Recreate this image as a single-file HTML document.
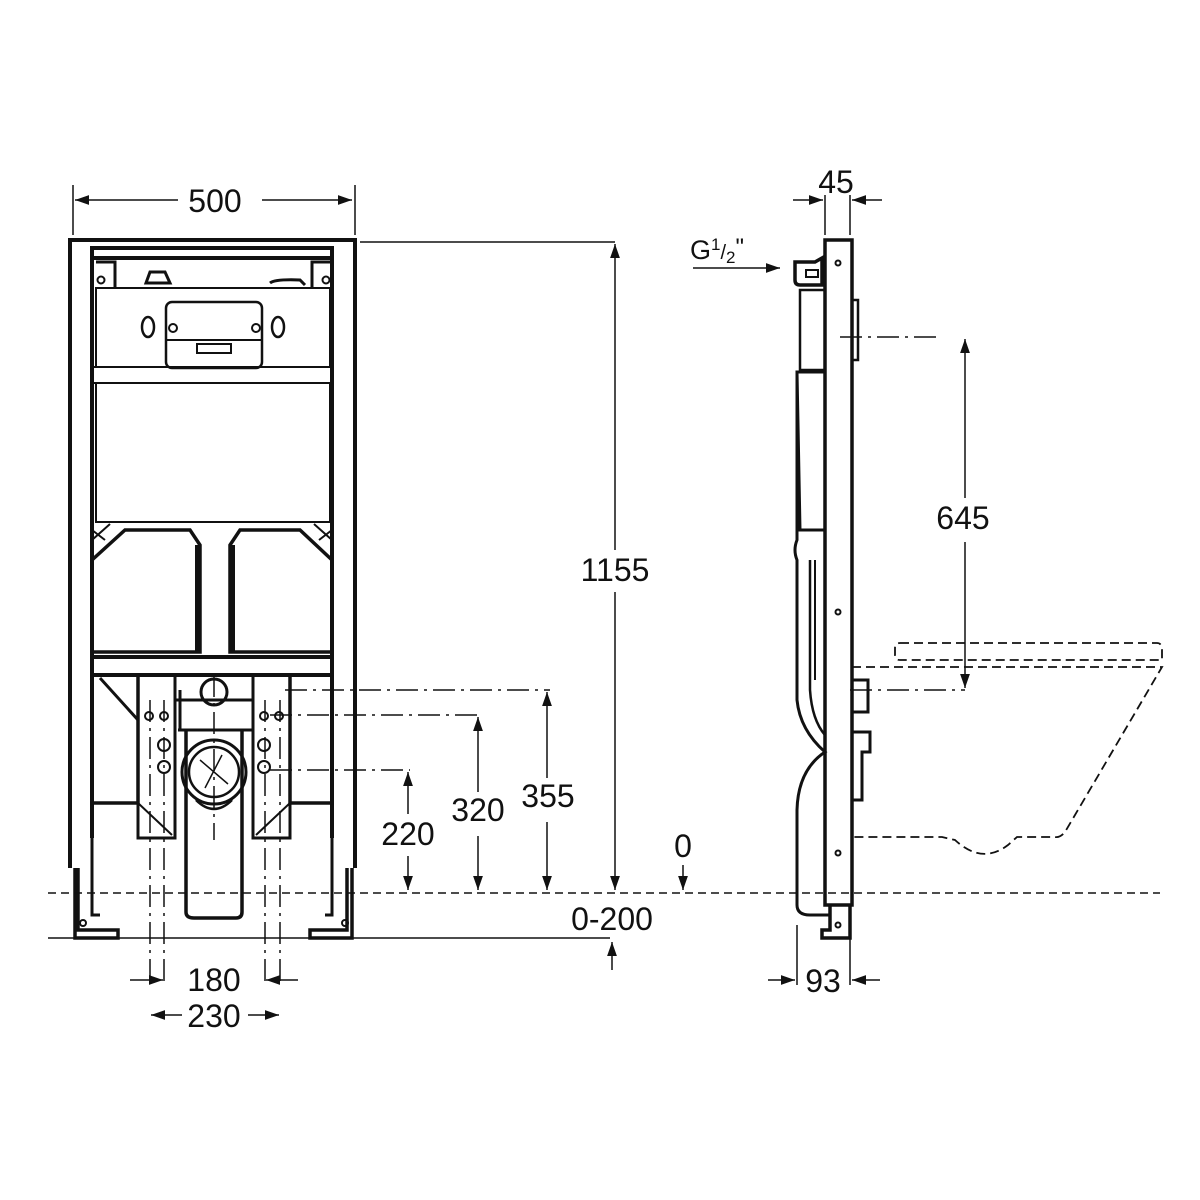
<!DOCTYPE html>
<html><head><meta charset="utf-8"><style>
html,body{margin:0;padding:0;background:#fff;}
svg{display:block}
text{font-family:"Liberation Sans",sans-serif;fill:#111;}
</style></head><body>
<svg width="1200" height="1200" viewBox="0 0 1200 1200" xmlns="http://www.w3.org/2000/svg">
<defs>
<marker id="a" viewBox="0 0 10 10" refX="10" refY="5" markerWidth="14" markerHeight="14" markerUnits="userSpaceOnUse" orient="auto-start-reverse"><path d="M0,1.5 L10,5 L0,8.5 Z" fill="#111"/></marker>
</defs>
<g stroke="#111" fill="none">
<g stroke-width="4">
<path d="M70,868 V240 H355 V868"/>
<path d="M92,838 V248 H332 V838"/>
<path d="M92,258 H332"/>
<path d="M96,288 H330 V367 H96 Z" stroke-width="2"/>
<path d="M96,383 H330 V522 H96 Z" stroke-width="2"/>
<path d="M92,367 H332 M92,383 H332" stroke-width="2"/>
<path d="M96,262 H115 V288 M330,262 H312 V288" stroke-width="3"/>
<path d="M146,283 L150,272 H165 L170,283 Z" stroke-width="3"/>
<path d="M270,283 Q275,279 300,280 L305,285" stroke-width="3"/>
<rect x="166" y="302" width="96" height="66" rx="6" stroke-width="2.5"/>
<path d="M166,340 H262" stroke-width="2"/>
<rect x="197" y="344" width="34" height="9" stroke-width="2"/>
<ellipse cx="148" cy="327" rx="6" ry="10" stroke-width="2.5"/>
<ellipse cx="278" cy="327" rx="6" ry="10" stroke-width="2.5"/>
<circle cx="173" cy="328" r="4" stroke-width="2"/>
<circle cx="256" cy="328" r="4" stroke-width="2"/>
<circle cx="101" cy="280" r="3.5" stroke-width="2"/>
<circle cx="326" cy="280" r="3.5" stroke-width="2"/>
<path d="M92,590 L92,560 L125,530 H190 L200,545 V652 H92" stroke-width="3.5"/>
<path d="M332,590 V560 L300,530 H240 L230,545 V652 H332" stroke-width="3.5"/>
<path d="M197,545 V652 M233,545 V652" stroke-width="4"/>
<path d="M92,540 L110,524 M332,540 L314,524 M92,530 L105,540 M332,530 L319,540" stroke-width="2"/>
<path d="M92,657 H332 M92,675 H332" stroke-width="4"/>
<path d="M92,675 V803 H138 V675 M138,675 V803" stroke-width="3.5"/>
<path d="M332,675 V803 H290 V675" stroke-width="3.5"/>
<path d="M100,678 L138,720" stroke-width="3"/>
<path d="M138,675 V838 H175 V675 M290,675 V838 H253 V675" stroke-width="3"/>
<path d="M138,803 L172,835 M290,803 L256,835" stroke-width="2"/>
<path d="M175,700 H253 M180,690 L180,730" stroke-width="3"/>
<path d="M178,730 H253" stroke-width="3"/>
<path d="M186,730 V912 Q186,918 194,918 H236 Q242,918 242,912 V730" stroke-width="3.5"/>
<circle cx="214" cy="692" r="13" stroke-width="3"/>
<circle cx="214" cy="772" r="32" stroke-width="3"/>
<circle cx="214" cy="772" r="25" stroke-width="2.5"/>
<path d="M200,760 L228,784 M205,788 L222,755" stroke-width="1.5"/>
<path d="M196,800 Q214,818 232,800" stroke-width="2.5"/>
<g stroke-width="2">
<circle cx="149" cy="716" r="4"/><circle cx="164" cy="716" r="4"/>
<circle cx="264" cy="716" r="4"/><circle cx="279" cy="716" r="4"/>
<circle cx="164" cy="745" r="6"/><circle cx="164" cy="767" r="6"/>
<circle cx="264" cy="745" r="6"/><circle cx="264" cy="767" r="6"/>
</g>
<path d="M78,868 V930 H118 V938 H75 V868" stroke-width="3.5"/>
<path d="M92,838 V915 L100,915" stroke-width="3"/>
<path d="M347,868 V930 H310 V938 H352 V868" stroke-width="3.5"/>
<path d="M332,838 V915 L325,915" stroke-width="3"/>
<circle cx="83" cy="923" r="3" stroke-width="2"/><circle cx="345" cy="923" r="3" stroke-width="2"/>
</g>
<g stroke-width="1.5" stroke-dasharray="22,6,3,6">
<path d="M150,700 V985 M164,700 V985 M265,700 V985 M280,700 V985"/>
<path d="M214,675 V840"/>
<path d="M285,690 H550 M270,715 H480 M270,770 H410"/>
<path d="M840,337 H940 M850,690 H965"/>
</g>
<path d="M48,893 H1160" stroke-width="1.5" stroke-dasharray="8,5"/>
<path d="M48,938 H610" stroke-width="1.5"/>
<g stroke-width="1.5">
<path d="M73,185 V235 M355,185 V235"/>
<path d="M360,242 H615"/>
<path d="M178,200 H75" marker-end="url(#a)"/><path d="M262,200 H352" marker-end="url(#a)"/>
<path d="M615,550 V244" marker-end="url(#a)"/><path d="M615,592 V890" marker-end="url(#a)"/>
<path d="M547,778 V692" marker-end="url(#a)"/><path d="M547,822 V890" marker-end="url(#a)"/>
<path d="M478,792 V717" marker-end="url(#a)"/><path d="M478,836 V890" marker-end="url(#a)"/>
<path d="M408,814 V772" marker-end="url(#a)"/><path d="M408,856 V890" marker-end="url(#a)"/>
<path d="M683,865 V890" marker-end="url(#a)"/>
<path d="M612,970 V942" marker-end="url(#a)"/>
<path d="M130,980 H163" marker-end="url(#a)"/><path d="M298,980 H266" marker-end="url(#a)"/>
<path d="M182,1015 H151" marker-end="url(#a)"/><path d="M248,1015 H279" marker-end="url(#a)"/>
<path d="M965,498 V339" marker-end="url(#a)"/><path d="M965,542 V688" marker-end="url(#a)"/>
<path d="M793,200 H823" marker-end="url(#a)"/><path d="M882,200 H852" marker-end="url(#a)"/>
<path d="M825,195 V235 M850,195 V235"/>
<path d="M693,268 H780" marker-end="url(#a)"/>
<path d="M797,925 V985 M850,925 V985"/>
<path d="M768,980 H795" marker-end="url(#a)"/><path d="M880,980 H852" marker-end="url(#a)"/>
</g>
<g stroke-width="3.5">
<path d="M825,240 H852 V905 H825 Z"/>
<path d="M830,905 V930 H822 V938 H850 V905"/>
<path d="M795,262 H815 L822,258 V285 H800 Q795,285 795,280 Z"/>
<path d="M800,290 H825 V370 H800 Z" stroke-width="2.5"/>
<path d="M797,372 H825 V530 H800 Z" stroke-width="3"/>
<path d="M797,372 V540 Q793,550 797,560 V700 Q800,730 825,752 Q798,770 797,810 V905 Q797,915 810,915 H830" stroke-width="3"/>
<path d="M810,560 V690 Q812,720 825,735" stroke-width="2.5"/>
<path d="M815,560 V680" stroke-width="2"/>
<path d="M852,300 H858 V360 H852" stroke-width="2.5"/>
<path d="M852,680 H868 V712 H852" stroke-width="3"/>
<path d="M852,732 H870 V752 H862 V800 H852" stroke-width="3"/>
</g>
<g stroke-width="2"><circle cx="838" cy="263" r="2.5"/><circle cx="838" cy="612" r="2.5"/><circle cx="838" cy="853" r="2.5"/><circle cx="838" cy="925" r="2.5"/><rect x="806" y="270" width="12" height="7"/></g>
<g stroke-width="1.8" stroke-dasharray="9,5">
<path d="M900,643 H1157 Q1162,643 1162,650 V660 H900 Q895,660 895,655 V648 Q895,643 900,643"/>
<path d="M852,667 H1162 L1065,832 Q1060,838 1055,837 H1017 L1008,845 Q982,865 955,840 L942,837 H852"/>
</g>
</g>
<g font-size="32">
<text x="215" y="212" text-anchor="middle">500</text>
<text x="615" y="581" text-anchor="middle">1155</text>
<text x="963" y="529" text-anchor="middle">645</text>
<text x="548" y="807" text-anchor="middle">355</text>
<text x="478" y="821" text-anchor="middle">320</text>
<text x="408" y="845" text-anchor="middle">220</text>
<text x="683" y="857" text-anchor="middle">0</text>
<text x="612" y="930" text-anchor="middle">0-200</text>
<text x="214" y="991" text-anchor="middle">180</text>
<text x="214" y="1027" text-anchor="middle">230</text>
<text x="836" y="193" text-anchor="middle">45</text>
<text x="823" y="992" text-anchor="middle">93</text>
</g>
<text x="690" y="259" font-size="27">G<tspan font-size="17" dy="-9">1</tspan><tspan font-size="20" dy="9">/</tspan><tspan font-size="17" dy="4">2</tspan><tspan font-size="24" dy="-8">"</tspan></text>
</svg>
</body></html>
